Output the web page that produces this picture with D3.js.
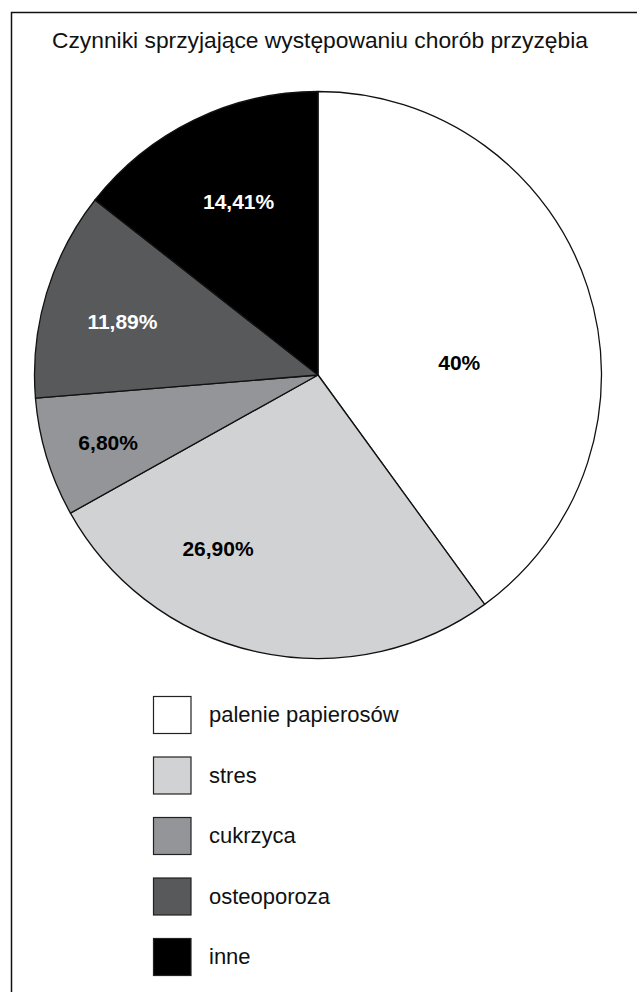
<!DOCTYPE html>
<html>
<head>
<meta charset="utf-8">
<script src="https://cdn.jsdelivr.net/npm/d3@7"></script>
<style>
  html, body { margin: 0; padding: 0; background: #fff; }
  svg { display: block; }
  text { font-family: "Liberation Sans", Arial, Helvetica, sans-serif; }
</style>
</head>
<body>
<svg id="chart" width="637" height="992"></svg>
<script>
// Czynniki sprzyjające występowaniu chorób przyzębia — udział procentowy
const titleText = "Czynniki sprzyjające występowaniu chorób przyzębia";
const categories = ["palenie papierosów", "stres", "cukrzyca", "osteoporoza", "inne"];
const values = [40, 26.9, 6.8, 11.89, 14.41];
const valueLabels = ["40%", "26,90%", "6,80%", "11,89%", "14,41%"];
const colors = ["#ffffff", "#d1d2d4", "#939598", "#58595b", "#000000"];

// label placement inside each wedge: fraction of radius and angular nudge (degrees)
const labelRadiusFrac = [0.50, 0.705, 0.778, 0.715, 0.672];
const labelAngleNudge = [13.1, 17.6, -1.0, -1.5, 1.3];
const labelFill = ["#000", "#000", "#000", "#fff", "#fff"];

const W = 637, H = 992;
const cx = 318, cy = 375, R = 283.5;

const svg = d3.select("#chart");

// frame
svg.append("path")
  .attr("d", `M11.5,${H} L11.5,12.5 L${W},12.5`)
  .attr("fill", "none")
  .attr("stroke", "#111")
  .attr("stroke-width", 1.5);

// title
svg.append("text")
  .attr("x", 320)
  .attr("y", 48)
  .attr("text-anchor", "middle")
  .attr("font-size", 22.8)
  .attr("fill", "#111")
  .text(titleText);

const rows = categories.map((c, i) => ({ name: c, value: values[i], label: valueLabels[i], color: colors[i], i }));

const pie = d3.pie().sort(null).value(d => d.value).startAngle(0).endAngle(2 * Math.PI);
const arc = d3.arc().innerRadius(0).outerRadius(R);
const arcs = pie(rows);

const g = svg.append("g").attr("transform", `translate(${cx},${cy})`);

g.selectAll("path.slice")
  .data(arcs)
  .join("path")
  .attr("class", "slice")
  .attr("d", arc)
  .attr("fill", d => d.data.color)
  .attr("stroke", "#111")
  .attr("stroke-width", 1.3)
  .attr("stroke-linejoin", "round");

g.selectAll("text.val")
  .data(arcs)
  .join("text")
  .attr("class", "val")
  .attr("transform", d => {
    const i = d.data.i;
    const a = (d.startAngle + d.endAngle) / 2 + labelAngleNudge[i] * Math.PI / 180;
    const r = R * labelRadiusFrac[i];
    return `translate(${r * Math.sin(a)},${-r * Math.cos(a)})`;
  })
  .attr("text-anchor", "middle")
  .attr("dy", "0.36em")
  .attr("font-size", 21)
  .attr("font-weight", "bold")
  .attr("fill", d => labelFill[d.data.i])
  .text(d => d.data.label);

// legend
const legendY = d3.scaleBand()
  .domain(categories)
  .range([696, 696 + 60.5 * categories.length])
  .paddingInner(0);

const leg = svg.append("g");
const item = leg.selectAll("g.item")
  .data(rows)
  .join("g")
  .attr("class", "item")
  .attr("transform", d => `translate(153.5,${legendY(d.name) + 0.5})`);

item.append("rect")
  .attr("width", 37.5)
  .attr("height", 37)
  .attr("fill", d => d.color)
  .attr("stroke", "#222")
  .attr("stroke-width", 1.2);

item.append("text")
  .attr("x", 55.5)
  .attr("y", 25.5)
  .attr("font-size", 22)
  .attr("fill", "#111")
  .text(d => d.name);
</script>
</body>
</html>
